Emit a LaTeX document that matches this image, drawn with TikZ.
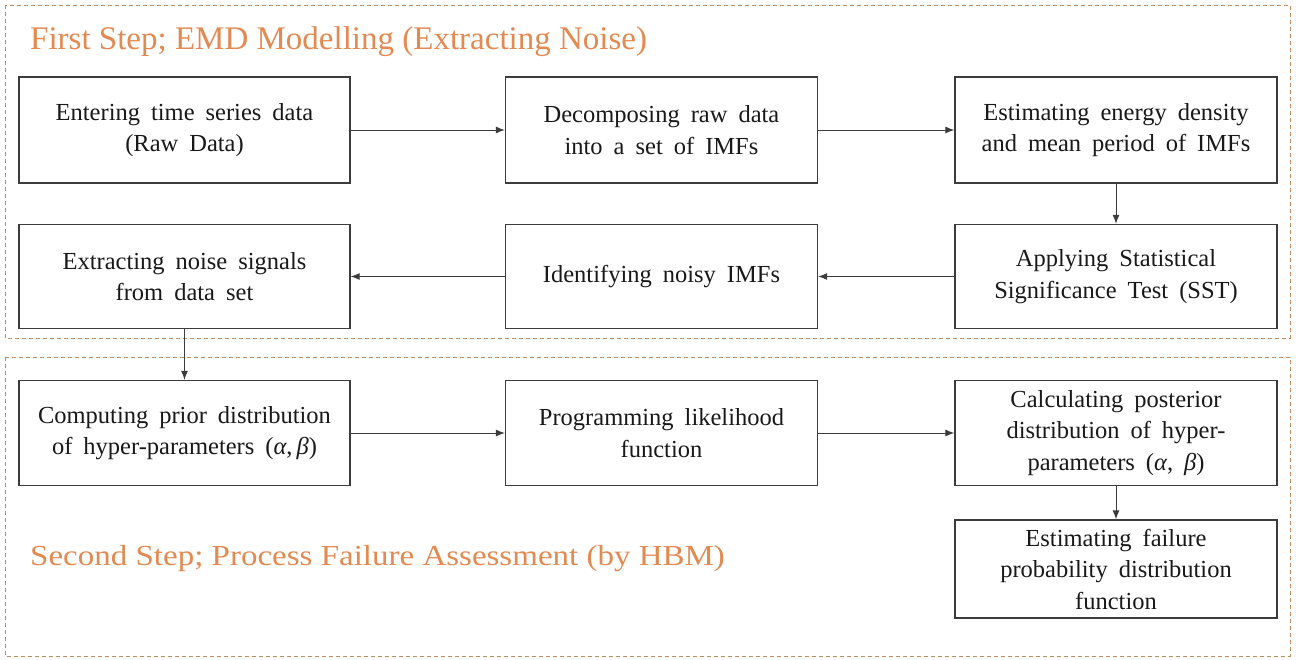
\documentclass[tikz,border=0pt]{standalone}
\usepackage{fontspec}
\setmainfont{Liberation Serif}
\usetikzlibrary{arrows.meta}
\definecolor{titleor}{RGB}{226,138,82}
\definecolor{dashor}{RGB}{190,140,95}
\definecolor{boxline}{RGB}{60,60,60}
\newcommand\myboxfont{\fontsize{24.5}{31.5}\selectfont\spaceskip=0.45em\relax}
\tikzset{
  stepbox/.style={draw=boxline, line width=1.3pt, align=center, inner sep=2pt,
    font=\myboxfont, text=black!90},
  flow/.style={draw=boxline, line width=1pt, -{Latex[length=9pt,width=7pt]}},
  group/.style={draw=dashor, dashed, dash pattern=on 4pt off 3pt, line width=0.8pt},
  title/.style={anchor=base west, text=titleor, inner sep=0pt, font=\fontsize{33}{36}\selectfont}
}
\begin{document}
\begin{tikzpicture}[x=1pt,y=-1pt]
\useasboundingbox[fill=white] (0,0) rectangle (1301,659);
\draw[group] (5,5) rectangle (1290,338);
\draw[group] (5,357) rectangle (1290,656);
\node[title] (t1) at (30,49) {First Step; EMD Modelling (Extracting Noise)};
\node[title] (t2) at (30,565) {\scalebox{1}[0.88]{Second Step; Process Failure Assessment (by HBM)}};
% row 1
\node[stepbox, minimum width=331pt, minimum height=106pt] (b1) at (184.5,130) {Entering time series data\\(Raw Data)};
\node[stepbox, minimum width=312pt, minimum height=106pt] (b2) at (661.5,130) {Decomposing raw data\\into a set of IMFs};
\node[stepbox, minimum width=322pt, minimum height=106pt] (b3) at (1116,130) {Estimating energy density\\and mean period of IMFs};
% row 2
\node[stepbox, minimum width=331pt, minimum height=104pt] (b4) at (184.5,276.5) {Extracting noise signals\\from data set};
\node[stepbox, minimum width=312pt, minimum height=104pt] (b5) at (661.5,276.5) {Identifying noisy IMFs};
\node[stepbox, minimum width=322pt, minimum height=104pt] (b6) at (1116,276.5) {Applying Statistical\\Significance Test (SST)};
% row 3
\node[stepbox, minimum width=331pt, minimum height=105pt] (b7) at (184.5,433) {Computing prior distribution\\of hyper-parameters (\textit{α},\,\textit{β})};
\node[stepbox, minimum width=312pt, minimum height=105pt] (b8) at (661.5,433) {Programming likelihood\\function};
\node[stepbox, minimum width=322pt, minimum height=105pt] (b9) at (1116,433) {Calculating posterior\\distribution of hyper-\\parameters (\textit{α}, \textit{β})};
\node[stepbox, minimum width=322pt, minimum height=98pt] (b10) at (1116,569) {Estimating failure\\probability distribution\\function};
% connectors
\draw[flow] (b1) -- (b2);
\draw[flow] (b2) -- (b3);
\draw[flow] (b3) -- (b6);
\draw[flow] (b6) -- (b5);
\draw[flow] (b5) -- (b4);
\draw[flow] (b4) -- (b7);
\draw[flow] (b7) -- (b8);
\draw[flow] (b8) -- (b9);
\draw[flow] (b9) -- (b10);
\end{tikzpicture}
\end{document}
